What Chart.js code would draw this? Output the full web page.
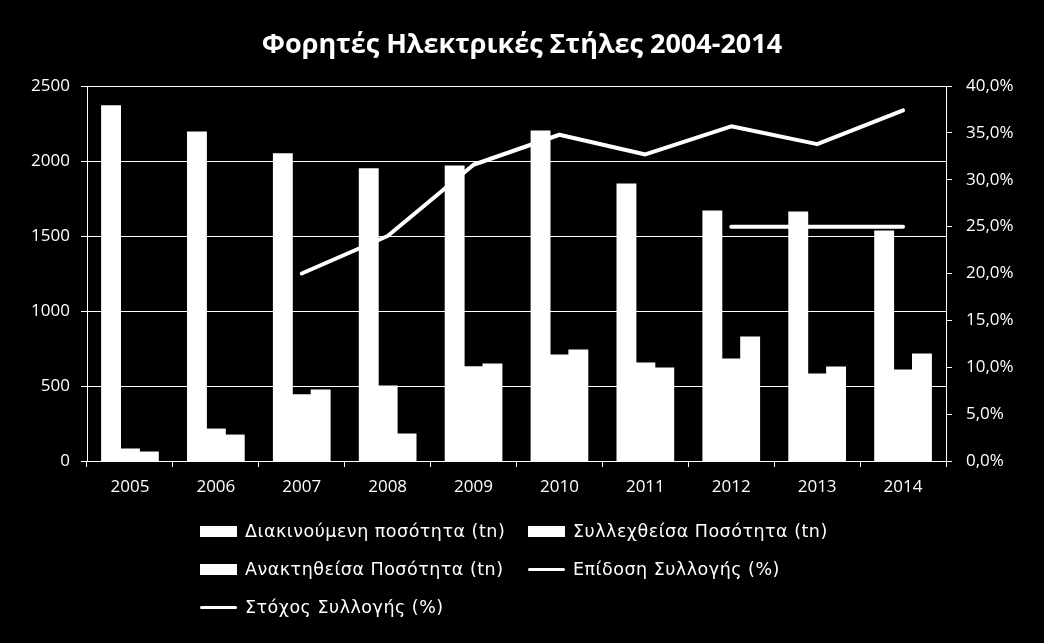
<!DOCTYPE html>
<html>
<head>
<meta charset="utf-8">
<script src="https://cdn.jsdelivr.net/npm/chart.js@4/dist/chart.umd.min.js"></script>
<style>
  html, body { margin: 0; padding: 0; background: #000; }
  #wrap { position: relative; width: 1044px; height: 643px; background: #000; }
  #legend {
    position: absolute; left: 200px; top: 512px;
    display: grid; grid-template-columns: 328px auto; row-gap: 0;
    font-family: "DejaVu Sans", sans-serif; font-size: 17.5px; color: #fff;
    letter-spacing: 0.5px;
  }
  .item { display: flex; align-items: center; height: 38px; white-space: nowrap; }
  .sw { width: 37px; margin-right: 8px; background: #fff; }
  .sw.box { height: 11px; }
  .sw.line { height: 3px; border-radius: 2px; }
</style>
</head>
<body>
<div id="wrap">
  <canvas id="chart" width="1044" height="643"></canvas>
  <div id="legend"></div>
</div>
<script>
// ── Data ──────────────────────────────────────────────────────────────────────
const years       = ["2005","2006","2007","2008","2009","2010","2011","2012","2013","2014"];
const traded      = [2368, 2194, 2048, 1948, 1967, 2200, 1847, 1667, 1660, 1533];
const collected   = [80, 213, 442, 500, 629, 707, 653, 680, 580, 607];
const recovered   = [60, 173, 473, 180, 647, 740, 620, 827, 627, 713];
const performance = [null, null, 20.0, 24.0, 31.6, 34.8, 32.7, 35.7, 33.8, 37.4];
const target      = [null, null, null, null, null, null, null, 25, 25, 25];

const FONT = "'Open Sans', sans-serif";
const WHITE = "#ffffff";

// ── Chart ─────────────────────────────────────────────────────────────────────
const bar = (label, data) => ({
  type: "bar", label, data, yAxisID: "y",
  backgroundColor: WHITE, borderWidth: 0, inflateAmount: 0.5, order: 1,
  barPercentage: 1.0, categoryPercentage: 0.66,
});
const line = (label, data) => ({
  type: "line", label, data, yAxisID: "y1",
  borderColor: WHITE, borderWidth: 4, pointRadius: 0, tension: 0,
  borderCapStyle: "round", borderJoinStyle: "round", order: 0, spanGaps: false,
});

const chart = new Chart(document.getElementById("chart"), {
  data: {
    labels: years,
    datasets: [
      bar("Διακινούμενη ποσότητα (tn)", traded),
      bar("Συλλεχθείσα Ποσότητα (tn)", collected),
      bar("Ανακτηθείσα Ποσότητα (tn)", recovered),
      line("Επίδοση Συλλογής (%)", performance),
      line("Στόχος Συλλογής (%)", target),
    ]
  },
  options: {
    responsive: false, animation: false, devicePixelRatio: 1,
    layout: { padding: { left: 0, right: 0, top: 0, bottom: 137 } },
    plugins: {
      legend: { display: false },
      tooltip: { enabled: false },
      title: {
        display: true, text: "Φορητές Ηλεκτρικές Στήλες 2004-2014", color: WHITE,
        font: { family: FONT, size: 27, weight: "bold", lineHeight: 1.2 },
        padding: { top: 29, bottom: 24.6 },
      },
    },
    scales: {
      x: {
        border: { color: WHITE, width: 1 },
        grid: { drawOnChartArea: false, drawTicks: true, tickLength: 6, tickColor: WHITE, offset: true },
        ticks: { color: WHITE, font: { family: FONT, size: 17 }, padding: 10 },
        afterFit: s => { s.height = 45; },
      },
      y: {
        position: "left", min: 0, max: 2500,
        border: { color: WHITE, width: 1 },
        grid: { color: WHITE, lineWidth: 1, tickLength: 6, tickColor: WHITE },
        ticks: {
          stepSize: 500, color: WHITE, font: { family: FONT, size: 17 }, padding: 11,
          callback: v => String(v),
        },
        afterFit: s => { s.width = 87; },
      },
      y1: {
        position: "right", min: 0, max: 40,
        border: { color: WHITE, width: 1 },
        grid: { drawOnChartArea: false, tickLength: 6, tickColor: WHITE },
        ticks: {
          stepSize: 5, color: WHITE, font: { family: FONT, size: 17 }, padding: 14,
          callback: v => v.toFixed(1).replace(".", ",") + "%",
        },
        afterFit: s => { s.width = 98; },
      },
    },
  },
});

// ── HTML legend (left-aligned, two columns like the original) ────────────────
document.getElementById("legend").innerHTML = chart.data.datasets.map(ds => `
  <div class="item"><span class="sw ${ds.type === "bar" ? "box" : "line"}"></span>${ds.label}</div>
`).join("");
</script>
</body>
</html>
